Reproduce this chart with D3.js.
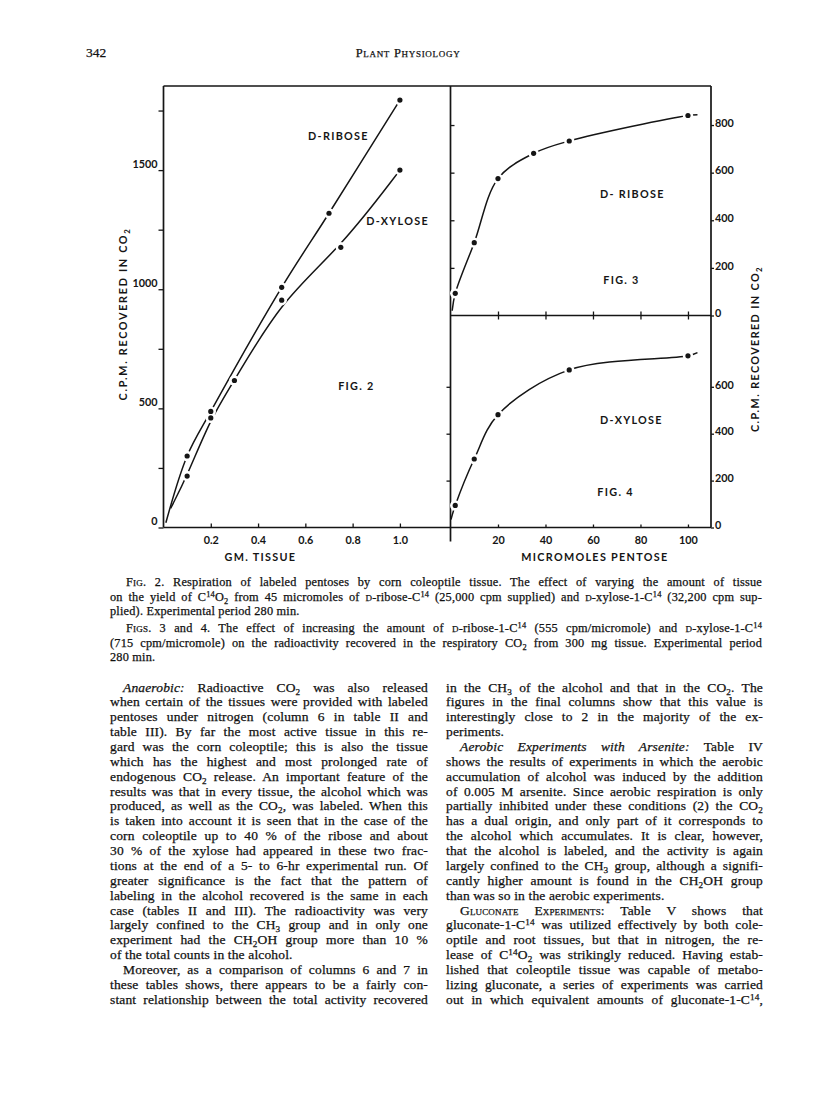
<!DOCTYPE html>
<html>
<head>
<meta charset="utf-8">
<script src="https://cdn.jsdelivr.net/npm/d3@7"></script>
<style>
  body { margin: 0; background: #fff; }
  svg { display: block; }
  .serif { font-family: "Liberation Serif", "Times New Roman", serif; fill: #111; stroke: #111; stroke-width: 0.25px; }
  .letter { font-family: Lato, "DejaVu Sans", sans-serif; font-weight: 700; fill: #151515; }
</style>
</head>
<body>
<svg width="816" height="1112"></svg>
<script>
// ---- Fig. 2 : C.P.M. recovered vs gm. tissue ----
const riboseTissue = [0.1, 0.2, 0.5, 0.7, 1.0];
const riboseCpm2 = [300, 487, 1008, 1319, 1794];
const xyloseTissue = [0.1, 0.2, 0.3, 0.5, 0.75, 1.0];
const xyloseCpm2 = [216, 460, 617, 954, 1176, 1500];
// where the drawn curves begin (they start at the axis, not at a dot)
const riboseStart2 = [0.01, 20];
const xyloseStart2 = [0.03, 80];

// ---- Fig. 3 / Fig. 4 : C.P.M. recovered vs micromoles pentose ----
const pentoseRibose = [2, 10, 20, 35, 50, 100];
const riboseCpm3 = [93, 306, 575, 681, 733, 840];
const pentoseXylose = [2, 10, 20, 50, 100];
const xyloseCpm4 = [94, 292, 481, 672, 732];
const riboseEnds3 = [[0.7, 20], [104, 843]];
const xyloseEnds4 = [[0.2, 34], [104, 746]];

// ---- ticks ----
const fig2YTicks = [0, 250, 500, 750, 1000, 1250, 1500, 1750];
const fig2YLabels = [0, 500, 1000, 1500];
const fig2XTicks = [0.2, 0.4, 0.6, 0.8, 1.0];
const pentoseTicks = [20, 40, 60, 80, 100];
const fig3YTicks = [0, 200, 400, 600, 800];
const fig4YTicks = [0, 200, 400, 600];

// ---- page text ----
const header = ["342", "Plant Physiology"];
const captionLines = [
  "  ~Fig.~ 2. Respiration of labeled pentoses by corn coleoptile tissue. The effect of varying the amount of tissue",
  "on the yield of C^{14}O_{2} from 45 micromoles of ~d~-ribose-C^{14} (25,000 cpm supplied) and ~d~-xylose-1-C^{14} (32,200 cpm sup-",
  "plied). Experimental period 280 min.",
  "  ~Figs.~ 3 and 4. The effect of increasing the amount of ~d~-ribose-1-C^{14} (555 cpm/micromole) and ~d~-xylose-1-C^{14}",
  "(715 cpm/micromole) on the radioactivity recovered in the respiratory CO_{2} from 300 mg tissue. Experimental period",
  "280 min."
];
const leftColumn = [
  "  *Anaerobic:* Radioactive CO_{2} was also released",
  "when certain of the tissues were provided with labeled",
  "pentoses under nitrogen (column 6 in table II and",
  "table III). By far the most active tissue in this re-",
  "gard was the corn coleoptile; this is also the tissue",
  "which has the highest and most prolonged rate of",
  "endogenous CO_{2} release. An important feature of the",
  "results was that in every tissue, the alcohol which was",
  "produced, as well as the CO_{2}, was labeled. When this",
  "is taken into account it is seen that in the case of the",
  "corn coleoptile up to 40 % of the ribose and about",
  "30 % of the xylose had appeared in these two frac-",
  "tions at the end of a 5- to 6-hr experimental run. Of",
  "greater significance is the fact that the pattern of",
  "labeling in the alcohol recovered is the same in each",
  "case (tables II and III). The radioactivity was very",
  "largely confined to the CH_{3} group and in only one",
  "experiment had the CH_{2}OH group more than 10 %",
  "of the total counts in the alcohol.",
  "  Moreover, as a comparison of columns 6 and 7 in",
  "these tables shows, there appears to be a fairly con-",
  "stant relationship between the total activity recovered"
];
const rightColumn = [
  "in the CH_{3} of the alcohol and that in the CO_{2}. The",
  "figures in the final columns show that this value is",
  "interestingly close to 2 in the majority of the ex-",
  "periments.",
  "  *Aerobic Experiments with Arsenite:* Table IV",
  "shows the results of experiments in which the aerobic",
  "accumulation of alcohol was induced by the addition",
  "of 0.005 M arsenite. Since aerobic respiration is only",
  "partially inhibited under these conditions (2) the CO_{2}",
  "has a dual origin, and only part of it corresponds to",
  "the alcohol which accumulates. It is clear, however,",
  "that the alcohol is labeled, and the activity is again",
  "largely confined to the CH_{3} group, although a signifi-",
  "cantly higher amount is found in the CH_{2}OH group",
  "than was so in the aerobic experiments.",
  "  ~Gluconate Experiments~: Table V shows that",
  "gluconate-1-C^{14} was utilized effectively by both cole-",
  "optile and root tissues, but that in nitrogen, the re-",
  "lease of C^{14}O_{2} was strikingly reduced. Having estab-",
  "lished that coleoptile tissue was capable of metabo-",
  "lizing gluconate, a series of experiments was carried",
  "out in which equivalent amounts of gluconate-1-C^{14},"
];

const ink = "#151515";
const svg = d3.select("svg");
svg.append("rect").attr("width", 816).attr("height", 1112).attr("fill", "#fff");

// frame geometry
const fLeft = 163.5, fMid = 450.5, fRight = 711, fTop = 86, fBottom = 527.5, fSplit = 315.5;

const x2 = d3.scaleLinear().domain([0, 1.214]).range([fLeft, fMid]);
const y2 = d3.scaleLinear().domain([0, 1853]).range([fBottom, fTop]);
const x34 = d3.scaleLinear().domain([0, 109.7]).range([fMid, fRight]);
const y3 = d3.scaleLinear().domain([0, 964]).range([fSplit, fTop]);
const y4 = d3.scaleLinear().domain([0, 904]).range([fBottom, fSplit]);

const chart = svg.append("g");

// 边框
const frame = [
  [[fLeft, fTop], [fRight, fTop]],
  [[fLeft, fTop], [fLeft, fBottom]],
  [[fLeft, fBottom], [fRight, fBottom]],
  [[fMid, fTop], [fMid, fBottom + 14]],
  [[fRight, fTop], [fRight, fBottom]],
  [[fMid, fSplit], [fRight, fSplit]]
];
chart.selectAll("line.frame")
  .data(frame)
  .enter().append("line")
  .attr("class", "frame")
  .attr("x1", d => d[0][0]).attr("y1", d => d[0][1])
  .attr("x2", d => d[1][0]).attr("y2", d => d[1][1])
  .attr("stroke", ink)
  .attr("stroke-width", 1.7);

function styleAxis(g) {
  g.select(".domain").remove();
  g.attr("font-family", "Lato, 'DejaVu Sans', sans-serif")
    .attr("font-weight", 700)
    .attr("font-size", 10.8);
  g.selectAll(".tick line").attr("stroke", ink).attr("stroke-width", 1.3);
  g.selectAll(".tick text").attr("fill", ink);
}

// Fig 2 axes
chart.append("g")
  .attr("transform", `translate(${fLeft},0)`)
  .call(d3.axisLeft(y2).tickValues(fig2YTicks).tickSize(5).tickPadding(1)
    .tickFormat(d => fig2YLabels.includes(d) ? d : ""))
  .call(styleAxis)
  .selectAll(".tick text").attr("dy", "-0.25em");

chart.append("g")
  .attr("transform", `translate(0,${fBottom})`)
  .call(d3.axisBottom(x2).tickValues(fig2XTicks).tickSizeInner(-4).tickSizeOuter(0)
    .tickPadding(9).tickFormat(d3.format(".1f")))
  .call(styleAxis);

// Fig 3 axes
chart.append("g")
  .attr("transform", `translate(${fRight},0)`)
  .call(d3.axisRight(y3).tickValues(fig3YTicks).tickSize(3).tickPadding(1))
  .call(styleAxis)
  .selectAll(".tick text").attr("dy", "0.12em");

chart.append("g")
  .attr("transform", `translate(${fMid},0)`)
  .call(d3.axisRight(y3).tickValues(fig3YTicks.slice(1)).tickSize(4).tickFormat(""))
  .call(styleAxis);

chart.append("g")
  .attr("transform", `translate(0,${fSplit})`)
  .call(d3.axisTop(x34).tickValues(pentoseTicks).tickSize(4).tickFormat(""))
  .call(styleAxis);

// Fig 4 axes
chart.append("g")
  .attr("transform", `translate(0,${fSplit})`)
  .call(d3.axisBottom(x34).tickValues(pentoseTicks).tickSize(4).tickFormat(""))
  .call(styleAxis);

chart.append("g")
  .attr("transform", `translate(${fMid},0)`)
  .call(d3.axisLeft(y4).tickValues(fig4YTicks.slice(1)).tickSize(4).tickFormat(""))
  .call(styleAxis);

chart.append("g")
  .attr("transform", `translate(${fRight},0)`)
  .call(d3.axisRight(y4).tickValues(fig4YTicks).tickSize(3).tickPadding(1))
  .call(styleAxis)
  .selectAll(".tick text").attr("dy", "0.12em");

chart.append("g")
  .attr("transform", `translate(0,${fBottom})`)
  .call(d3.axisBottom(x34).tickValues(pentoseTicks).tickSizeInner(-3).tickSizeOuter(0).tickPadding(9))
  .call(styleAxis);

// 曲线 + 数据点
function zip(xs, ys) { return xs.map((v, i) => [v, ys[i]]); }

const curve = (sx, sy, c) => d3.line().x(d => sx(d[0])).y(d => sy(d[1])).curve(c);

// hand-drawn fits: most pass through their dots, the fig. 2 xylose one is smoothed past the 0.75 g dot
const series = [
  { pts: zip(riboseTissue, riboseCpm2), path: [riboseStart2, ...zip(riboseTissue, riboseCpm2)], sx: x2, sy: y2, c: d3.curveCatmullRom },
  { pts: zip(xyloseTissue, xyloseCpm2), path: [xyloseStart2, ...zip(xyloseTissue, xyloseCpm2)], sx: x2, sy: y2, c: d3.curveBasis },
  { pts: zip(pentoseRibose, riboseCpm3), path: [riboseEnds3[0], ...zip(pentoseRibose, riboseCpm3), riboseEnds3[1]], sx: x34, sy: y3, c: d3.curveCatmullRom },
  { pts: zip(pentoseXylose, xyloseCpm4), path: [xyloseEnds4[0], ...zip(pentoseXylose, xyloseCpm4), xyloseEnds4[1]], sx: x34, sy: y4, c: d3.curveCatmullRom }
];

series.forEach(s => {
  chart.append("path")
    .attr("d", curve(s.sx, s.sy, s.c)(s.path))
    .attr("fill", "none")
    .attr("stroke", ink)
    .attr("stroke-width", 1.5);
});

const dots = series.flatMap(s => s.pts.map(d => [s.sx(d[0]), s.sy(d[1])]));

// the lines are broken around each dot in the original
chart.selectAll("circle.gap")
  .data(dots).enter().append("circle")
  .attr("class", "gap")
  .attr("cx", d => d[0]).attr("cy", d => d[1])
  .attr("r", 5.2).attr("fill", "#fff");
chart.selectAll("circle.dot")
  .data(dots).enter().append("circle")
  .attr("class", "dot")
  .attr("cx", d => d[0]).attr("cy", d => d[1])
  .attr("r", 2.6).attr("fill", ink);

// 图内标注
function letter(x, y, txt, size, rotate, spacing) {
  const t = chart.append("text")
    .attr("class", "letter")
    .attr("font-size", size || 10.8)
    .attr("letter-spacing", spacing || 1.3)
    .attr("text-anchor", "middle")
    .attr("transform", `translate(${x},${y})` + (rotate ? " rotate(-90)" : ""))
    .attr("dy", "0.36em");
  txt.split(/(_\{[^}]*\})/).forEach(part => {
    if (!part) return;
    if (part.startsWith("_{")) {
      t.append("tspan").attr("baseline-shift", -3).style("font-size", "0.72em").text(part.slice(2, -1));
    } else {
      t.append("tspan").text(part);
    }
  });
  return t;
}

letter(x2(0.74), y2(1641), "D-RIBOSE");
letter(x2(0.99), y2(1288), "D-XYLOSE");
letter(x2(0.816), y2(595), "FIG. 2");
letter(x34(76.6), y3(510), "D- RIBOSE");
letter(x34(72), y3(149), "FIG. 3");
letter(x34(76.2), y4(457), "D-XYLOSE");
letter(x34(69.5), y4(153), "FIG. 4");
letter(123, 314, "C.P.M. RECOVERED  IN  CO_{2}", 10.8, true, 1.7);
letter(755, 349, "C.P.M.  RECOVERED  IN  CO_{2}", 10.8, true, 1.4);
letter(x2(0.41), 557, "GM.  TISSUE");
letter(x34(60.8), 557, "MICROMOLES   PENTOSE");

// ---- 正文 ----
const page = svg.append("g");

function rich(text, str) {
  str.split(/(\^\{[^}]*\}|_\{[^}]*\}|\*[^*]*\*|~[^~]*~)/).forEach(part => {
    if (!part) return;
    const t = text.append("tspan");
    if (part.startsWith("^{")) {
      t.attr("baseline-shift", 4).style("font-size", "0.68em").text(part.slice(2, -1));
    } else if (part.startsWith("_{")) {
      t.attr("baseline-shift", -2.5).style("font-size", "0.68em").text(part.slice(2, -1));
    } else if (part.startsWith("*")) {
      t.style("font-style", "italic").text(part.slice(1, -1));
    } else if (part.startsWith("~")) {
      t.style("font-variant", "small-caps").text(part.slice(1, -1));
    } else {
      t.text(part);
    }
  });
}

// lines starting with two spaces are indented; a line before an indented one is not justified
function block(lines, x0, x1, ys, size, spacing, indent, justifyLast) {
  lines.forEach((raw, i) => {
    const ind = raw.startsWith("  ");
    const str = ind ? raw.slice(2) : raw;
    const next = lines[i + 1];
    const isLast = next === undefined ? !justifyLast : next.startsWith("  ");
    const x = ind ? x0 + indent : x0;
    const t = page.append("text")
      .attr("class", "serif")
      .attr("x", x)
      .attr("y", ys(i))
      .attr("font-size", size)
      .attr("letter-spacing", spacing);
    rich(t, str);
    if (!isLast) {
      const natural = t.node().getComputedTextLength();
      const spaces = (str.match(/ /g) || []).length;
      if (spaces) t.attr("word-spacing", ((x1 - x) - natural) / spaces);
    }
  });
}

// 页眉
page.append("text").attr("class", "serif")
  .attr("x", 86).attr("y", 57).attr("font-size", 13.5).text(header[0]);
page.append("text").attr("class", "serif")
  .attr("x", 408).attr("y", 57).attr("font-size", 12.5)
  .attr("text-anchor", "middle")
  .style("font-variant", "small-caps").attr("letter-spacing", 0.7)
  .text(header[1]);

// 图注
const capBase = [586, 601, 615, 632, 647, 661];
block(captionLines, 110, 762, i => capBase[i], 12.3, 0.2, 16, false);

block(leftColumn, 110, 428, i => 691.5 + i * 14.87, 13.5, 0.15, 13, true);
block(rightColumn, 446, 763, i => 691.5 + i * 14.87, 13.5, 0.15, 14, true);
</script>
</body>
</html>
